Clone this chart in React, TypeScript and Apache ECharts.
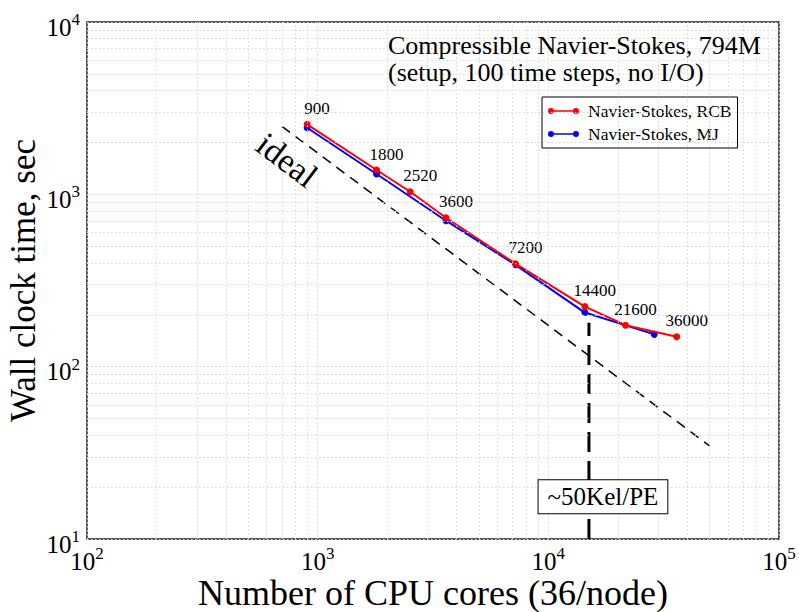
import React, { useEffect, useRef } from 'react';
import * as echarts from 'echarts';

const rcbCores = [900, 1800, 2520, 3600, 7200, 14400, 21600, 36000];
const rcbTimes = [2548, 1384, 1035, 731, 396, 223, 174, 149];
const mjCores = [900, 1800, 3600, 7200, 14400, 28800];
const mjTimes = [2435, 1312, 703, 390, 206, 154];
const idealCores = [700, 50000];
const idealTimes = [2480, 34.7];
const limitCores = [15000, 15000];
const limitTimes = [10, 180];
const xMinor = [200, 300, 400, 500, 600, 700, 800, 900, 2000, 3000, 4000, 5000, 6000, 7000, 8000, 9000, 20000, 30000, 40000, 50000, 60000, 70000, 80000, 90000];
const yMinor = [20, 30, 40, 50, 60, 70, 80, 90, 200, 300, 400, 500, 600, 700, 800, 900, 2000, 3000, 4000, 5000, 6000, 7000, 8000, 9000];
const titleLines = ['Compressible Navier-Stokes, 794M', '(setup, 100 time steps, no I/O)'];
const limitLabel = '~50Kel/PE';
const limitLabelAt = [17250, 17.6];
const idealLabel = 'ideal';
const idealLabelAt = [736, 1582];

const FONT = 'Liberation Serif';
const legendIcon = 'path://M0,4a3,3 0 1,0 6,0a3,3 0 1,0 -6,0ZM25,4a3,3 0 1,0 6,0a3,3 0 1,0 -6,0ZM6,3.2h19v1.6h-19Z';

const pow10 = (v: number) => '{b|10}{s|' + Math.round(Math.log10(v)) + '}';
const powRich = {
  b: { fontSize: 25, fontFamily: FONT, color: '#000', lineHeight: 32 },
  s: { fontSize: 17, fontFamily: FONT, color: '#000', lineHeight: 12, verticalAlign: 'top' },
};

export default function App() {
  const ref = useRef<HTMLDivElement>(null);
  useEffect(() => {
    const chart = echarts.init(ref.current!, null, { renderer: 'svg' });
    const gridLineStyle = { color: '#d6d6d6', type: [1.5, 2.5], width: 1 };
    chart.setOption({
      animation: false,
      backgroundColor: '#fff',
      textStyle: { fontFamily: FONT },
      title: {
        text: titleLines.join('\n'),
        left: 388,
        top: 32,
        padding: 0,
        textStyle: { fontFamily: FONT, fontSize: 26, fontWeight: 'normal', color: '#000', lineHeight: 27 },
      },
      legend: {
        data: [
          { name: 'Navier-Stokes, RCB', itemStyle: { color: '#ff0000', borderWidth: 0 } },
          { name: 'Navier-Stokes, MJ', itemStyle: { color: '#0000ff', borderWidth: 0 } },
        ],
        orient: 'vertical',
        left: 542,
        top: 97,
        padding: [5, 6, 5, 6],
        itemGap: 5,
        itemWidth: 31,
        itemHeight: 7,
        icon: legendIcon,
        borderColor: '#000',
        borderWidth: 1,
        backgroundColor: '#fff',
        textStyle: { fontFamily: FONT, fontSize: 17.5, color: '#000', lineHeight: 16, padding: [0, 0, 0, 4] },
      },
      grid: {
        left: 87, right: 20, top: 22, bottom: 73,
        outerBoundsMode: 'none',
        containLabel: false,
        show: true, borderColor: '#222', borderWidth: 1.5, backgroundColor: 'transparent',
      },
      xAxis: {
        type: 'log',
        logBase: 10,
        min: 100,
        max: 100000,
        name: 'Number of CPU cores (36/node)',
        nameLocation: 'middle',
        nameGap: 36,
        nameMoveOverlap: false,
        nameTextStyle: { fontFamily: FONT, fontSize: 36, color: '#000' },
        axisLine: { show: false },
        axisTick: { show: false },
        splitLine: { show: true, lineStyle: gridLineStyle },
        axisLabel: { formatter: pow10, rich: powRich, margin: 6 },
      },
      yAxis: {
        type: 'log',
        logBase: 10,
        min: 10,
        max: 10000,
        name: 'Wall clock time, sec',
        nameLocation: 'middle',
        nameGap: 46,
        nameMoveOverlap: false,
        nameTextStyle: { fontFamily: FONT, fontSize: 35, color: '#000' },
        axisLine: { show: false },
        axisTick: { show: false },
        splitLine: { show: true, lineStyle: gridLineStyle },
        axisLabel: { formatter: pow10, rich: powRich, margin: 7, padding: [10, 0, 0, 0] },
      },
      series: [
        {
          name: 'grid',
          type: 'line',
          data: [],
          z: 0,
          silent: true,
          markLine: {
            silent: true,
            symbol: 'none',
            label: { show: false },
            lineStyle: gridLineStyle,
            data: [...xMinor.map((v) => ({ xAxis: v })), ...yMinor.map((v) => ({ yAxis: v }))],
          },
        },
        {
          name: 'ideal',
          type: 'line',
          data: idealCores.map((c, i) => [c, idealTimes[i]]),
          showSymbol: false,
          symbol: 'none',
          z: 2,
          lineStyle: { color: '#000', width: 1.5, type: [10, 7] },
          markPoint: {
            symbolSize: 0,
            data: [{ coord: idealLabelAt, value: idealLabel }],
            label: { show: true, position: 'inside', formatter: idealLabel, rotate: -37, fontFamily: FONT, fontSize: 34, color: '#000' },
          },
        },
        {
          name: 'limit',
          type: 'line',
          data: limitCores.map((c, i) => [c, limitTimes[i]]),
          symbol: 'none',
          z: 2,
          lineStyle: { color: '#000', width: 3, type: [20, 9] },
          markPoint: {
            symbolSize: 0,
            data: [{ coord: limitLabelAt, value: limitLabel }],
            label: {
              show: true,
              position: 'inside',
              formatter: limitLabel,
              fontFamily: FONT,
              fontSize: 25,
              color: '#000',
              backgroundColor: '#fff',
              borderColor: '#000',
              borderWidth: 1,
              padding: [4, 9, 4, 9],
            },
          },
        },
        {
          name: 'Navier-Stokes, MJ',
          type: 'line',
          data: mjCores.map((c, i) => [c, mjTimes[i]]),
          symbol: 'circle',
          symbolSize: 7,
          z: 3,
          color: '#0000ff',
          itemStyle: { color: '#0000ff' },
          lineStyle: { color: '#0000ff', width: 2 },
        },
        {
          name: 'Navier-Stokes, RCB',
          type: 'line',
          data: rcbCores.map((c, i) => [c, rcbTimes[i]]),
          symbol: 'circle',
          symbolSize: 7,
          z: 4,
          color: '#ff0000',
          itemStyle: { color: '#ff0000' },
          lineStyle: { color: '#ff0000', width: 2 },
          label: {
            show: true,
            position: 'top',
            offset: [10, 1],
            formatter: (p: any) => String(p.value[0]),
            fontFamily: FONT,
            fontSize: 17,
            color: '#000',
          },
        },
      ],
    });
    return () => chart.dispose();
  }, []);
  return <div ref={ref} style={{ position: 'fixed', left: 0, top: 0, width: 799, height: 612 }} />;
}
